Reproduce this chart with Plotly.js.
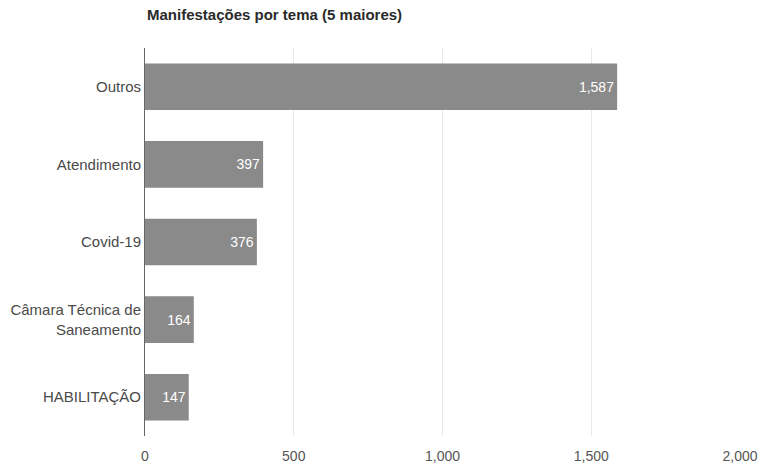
<!DOCTYPE html>
<html>
<head>
<meta charset="utf-8">
<script src="https://cdn.plot.ly/plotly-3.0.1.min.js"></script>
<style>html,body{margin:0;padding:0;background:#fff;}#chart{width:758px;height:465px;}</style>
</head>
<body>
<div id="chart"></div>
<script>
const categories = ["Outros", "Atendimento", "Covid-19", "Câmara Técnica de<br>Saneamento", "HABILITAÇÃO"];
const values = [1587, 397, 376, 164, 147];
const tickValues = [0, 500, 1000, 1500, 2000];
const tickLabels = ["0", "500", "1,000", "1,500", "2,000"];

const trace = {
  type: "bar",
  orientation: "h",
  y: categories,
  x: values,
  marker: {color: "#8a8a8a"},
  width: 0.6,
  text: values.map(v => v.toLocaleString("en-US")),
  textposition: "inside",
  insidetextanchor: "end",
  textfont: {color: "#ffffff", size: 14, family: "Liberation Sans, Arial, sans-serif"},
  hoverinfo: "none"
};

const layout = {
  width: 758, height: 465,
  margin: {l: 145, r: 18, t: 48, b: 29},
  paper_bgcolor: "#ffffff",
  plot_bgcolor: "#ffffff",
  font: {family: "Liberation Sans, Arial, sans-serif", color: "#444444", size: 15},
  title: {
    text: "<b>Manifestações por tema (5 maiores)</b>",
    font: {size: 15, color: "#2a2a2a"},
    x: 147 / 758, xanchor: "left", xref: "container",
    y: 1 - 15 / 465, yanchor: "middle", yref: "container"
  },
  xaxis: {
    range: [0, 2000],
    tickvals: tickValues,
    ticktext: tickLabels,
    showgrid: true,
    gridcolor: "#e8e8e8",
    zeroline: false,
    showline: false,
    ticks: "",
    ticklabelstandoff: 10,
    tickfont: {size: 14, color: "#555555"}
  },
  yaxis: {
    autorange: "reversed",
    showline: true,
    linecolor: "#666666",
    linewidth: 1,
    ticks: "",
    ticklabelstandoff: 0,
    showgrid: false,
    tickfont: {size: 15, color: "#4a4a4a"}
  },
  showlegend: false
};

Plotly.newPlot("chart", [trace], layout, {staticPlot: true, displayModeBar: false});
</script>
</body>
</html>
